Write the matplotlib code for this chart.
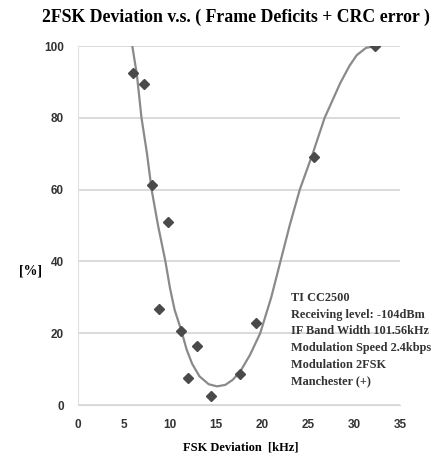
import matplotlib
matplotlib.use("Agg")
import matplotlib.pyplot as plt

# measured points (diamonds)
dev_khz = [6.0, 7.2, 8.0, 9.8, 8.8, 11.2, 12.0, 12.9, 14.4, 17.6, 19.3, 25.6, 32.3]
fail_pct = [92.5, 89.4, 61.3, 51.0, 26.7, 20.6, 7.5, 16.4, 2.5, 8.6, 22.8, 69.0, 100.0]

# trend line
trend_x = [5.9, 6.4, 6.9, 7.5, 8.0, 8.7, 9.5, 10.0, 10.5, 11.2, 11.8, 12.4, 13.2,
           14.2, 15.1, 16.0, 16.8, 17.6, 18.7, 19.8, 21.0, 22.0, 23.0, 24.1, 25.5,
           26.8, 28.5, 29.5, 30.3, 31.3, 32.3]
trend_y = [100, 92, 80, 70, 60, 50, 40, 32.5, 26.5, 21, 15.5, 11.5, 8.0,
           5.8, 5.2, 5.6, 7.0, 9.2, 14.0, 20, 30, 40, 50, 60, 70,
           80, 89.7, 94.5, 97.5, 99.5, 100]

y_ticks = [0, 20, 40, 60, 80, 100]
x_ticks = [0, 5, 10, 15, 20, 25, 30, 35]

info_lines = ["TI CC2500", "Receiving level: -104dBm", "IF Band Width 101.56kHz",
              "Modulation Speed 2.4kbps", "Modulation 2FSK", "Manchester (+)"]

fig = plt.figure(figsize=(4.37, 4.59), dpi=100)
ax = fig.add_axes([0.1785, 0.1176, 0.737, 0.782])

ax.plot(trend_x, trend_y, color="#8a8a8a", lw=1.6, zorder=2)
ax.plot(dev_khz, fail_pct, linestyle="none", marker="D", ms=5.5,
        color="#4a4a4a", zorder=3)

ax.set_xlim(0, 35)
ax.set_ylim(0, 100)
ax.set_xticks(x_ticks)
ax.set_yticks(y_ticks)
ax.set_xticklabels([str(v) for v in x_ticks], fontfamily="Liberation Sans",
                   fontweight="bold", fontsize=8.5, color="#333333")
ax.set_yticklabels([str(v) for v in y_ticks], fontfamily="Liberation Sans",
                   fontweight="bold", fontsize=8.5, color="#333333")
ax.tick_params(length=0, pad=10)
ax.yaxis.grid(True, color="#d4d4d4", lw=1.2)
ax.set_axisbelow(True)
for s in ["top", "right"]:
    ax.spines[s].set_visible(False)
ax.spines["left"].set_color("#e0e0e0")
ax.spines["bottom"].set_color("#d8d8d8")

fig.text(0.54, 0.962, "2FSK Deviation v.s. ( Frame Deficits + CRC error )",
         ha="center", va="center", fontfamily="Liberation Serif",
         fontweight="bold", fontsize=12.8)
fig.text(0.07, 0.41, "[%]", ha="center", va="center",
         fontfamily="Liberation Serif", fontweight="bold", fontsize=10)
fig.text(0.55, 0.026, "FSK Deviation  [kHz]", ha="center", va="center",
         fontfamily="Liberation Serif", fontweight="bold", fontsize=9)

for i, line in enumerate(info_lines):
    fig.text(0.666, 0.351 - i * 0.0365, line, ha="left", va="center",
             fontfamily="Liberation Serif", fontweight="bold", fontsize=8.8,
             color="#333333")

fig.savefig("out.png", dpi=100)
